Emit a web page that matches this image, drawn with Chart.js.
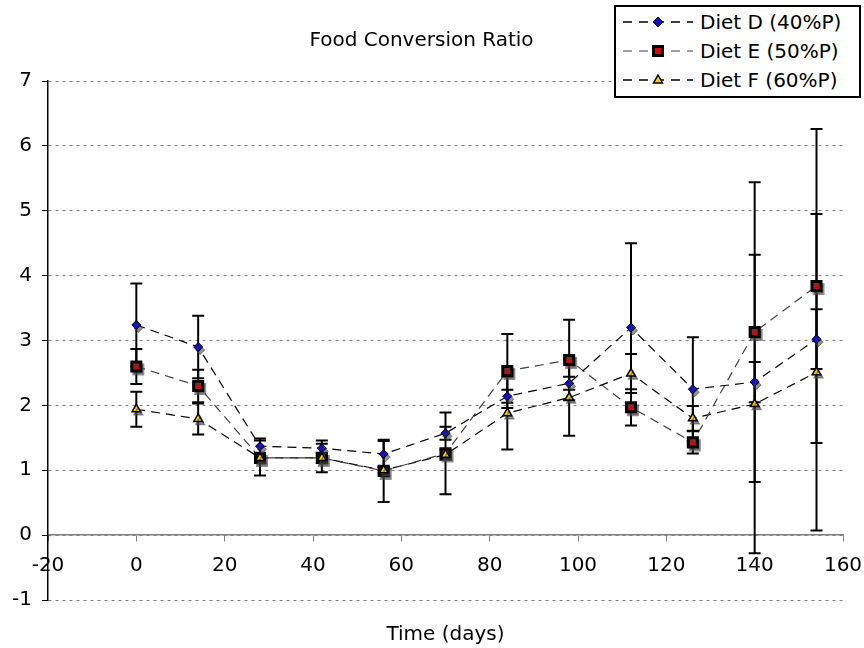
<!DOCTYPE html>
<html>
<head>
<meta charset="utf-8">
<script src="https://cdn.jsdelivr.net/npm/chart.js@4.4.0/dist/chart.umd.min.js"></script>
<style>
html, body { margin: 0; padding: 0; background: #fff; }
#wrap { position: relative; width: 864px; height: 648px; }
#legend {
    position: absolute; left: 614px; top: 5px; width: 243px; height: 89px;
    border: 2px solid #000; background: #fff;
    font-family: "DejaVu Sans", Verdana, sans-serif; font-size: 20px; color: #000;
}
#legend .row { display: flex; align-items: center; height: 29px; }
#legend svg { margin-left: 7px; margin-right: 7px; }
</style>
</head>
<body>
<div id="wrap">
    <canvas id="fcrChart" width="864" height="648"></canvas>
    <div id="legend"></div>
</div>
<script>
// sampling days
const days = [0, 14, 28, 42, 56, 70, 84, 98, 112, 126, 140, 154];

// mean food conversion ratio
const dietD = [3.24, 2.90, 1.37, 1.34, 1.25, 1.57, 2.14, 2.34, 3.20, 2.25, 2.36, 3.02];
const dietE = [2.60, 2.30, 1.19, 1.19, 0.99, 1.26, 2.53, 2.70, 1.97, 1.43, 3.13, 3.84];
const dietF = [1.94, 1.79, 1.19, 1.19, 1.00, 1.24, 1.88, 2.12, 2.49, 1.80, 2.02, 2.51];

// error bar half-lengths
const errD = [0.64, 0.48, 0.12, 0.12, 0.20, 0.10, 0.10, 0.10, 1.30, 0.80, 0.31, 0.46];
const errE = [0.27, 0.25, 0.27, 0.22, 0.48, 0.63, 0.57, 0.62, 0.28, 0.17, 2.31, 2.42];
const errF = [0.27, 0.24, 0.08, 0.08, 0.05, 0.08, 0.56, 0.59, 0.30, 0.19, 2.30, 2.44];

const seriesNames = ['Diet D (40%P)', 'Diet E (50%P)', 'Diet F (60%P)'];
const xTicks = { min: -20, max: 160, step: 20 };
const yTicks = { min: -1, max: 7, step: 1 };

const FONT = '"DejaVu Sans", Verdana, sans-serif';

const series = [
    { name: seriesNames[0], values: dietD, err: errD, line: '#000', style: 'rectRot', radius: 4.5, fill: '#1010c0', border: '#000', bw: 1, order: 2 },
    { name: seriesNames[1], values: dietE, err: errE, line: '#404040', style: 'rect', radius: 6.4, fill: '#e00000', border: '#000', bw: 3, order: 3 },
    { name: seriesNames[2], values: dietF, err: errF, line: '#000', style: 'triangle', radius: 5, fill: '#ffcc00', border: '#000', bw: 1.5, order: 1 }
];

function pts(values) {
    return days.map((d, i) => ({ x: d, y: values[i] }));
}

const datasets = [];
series.forEach(s => {
    datasets.push({
        label: s.name,
        data: pts(s.values),
        borderColor: s.line,
        borderWidth: 1.2,
        borderDash: [9, 6],
        pointRadius: 0,
        fill: false,
        tension: 0,
        order: 10
    });
});
series.forEach(s => {
    datasets.push({
        label: s.name + ' markers',
        data: pts(s.values),
        showLine: false,
        markers: true,
        err: s.err,
        pointStyle: s.style,
        pointRadius: s.radius,
        pointBackgroundColor: s.fill,
        pointBorderColor: s.border,
        pointBorderWidth: s.bw,
        order: s.order
    });
});

function drawBars(chart) {
    const ctx = chart.ctx;
    const xs = chart.scales.x, ys = chart.scales.y;
    ctx.save();
    ctx.strokeStyle = '#000';
    ctx.lineWidth = 2;
    series.forEach(s => {
        days.forEach((d, i) => {
            const px = xs.getPixelForValue(d);
            const top = ys.getPixelForValue(s.values[i] + s.err[i]);
            const bot = ys.getPixelForValue(s.values[i] - s.err[i]);
            ctx.beginPath();
            ctx.moveTo(px, top); ctx.lineTo(px, bot);
            ctx.moveTo(px - 6, top); ctx.lineTo(px + 6, top);
            ctx.moveTo(px - 6, bot); ctx.lineTo(px + 6, bot);
            ctx.stroke();
        });
    });
    ctx.restore();
}

const errorBars = {
    id: 'errorBars',
    beforeDatasetsDraw(chart) { chart.$barsDone = false; },
    beforeDatasetDraw(chart, args) {
        const ds = chart.data.datasets[args.index];
        if (!ds.markers) return;
        if (!chart.$barsDone) { drawBars(chart); chart.$barsDone = true; }
        const ctx = chart.ctx;
        ctx.save();
        ctx.shadowColor = 'rgba(70,70,70,0.6)';
        ctx.shadowOffsetX = 2;
        ctx.shadowOffsetY = 3;
        ctx.shadowBlur = 0;
    },
    afterDatasetDraw(chart, args) {
        if (chart.data.datasets[args.index].markers) chart.ctx.restore();
    }
};

const ctx = document.getElementById('fcrChart').getContext('2d');
const fcrChart = new Chart(ctx, {
    type: 'line',
    data: { datasets: datasets },
    options: {
        responsive: false,
        animation: false,
        layout: { padding: { left: 0, right: 21, top: 0, bottom: 0 } },
        plugins: {
            legend: { display: false },
            tooltip: { enabled: false },
            title: {
                display: true,
                text: 'Food Conversion Ratio',
                color: '#000',
                font: { family: FONT, size: 20, weight: 'normal' },
                padding: { top: 29, bottom: 28 }
            },
            subtitle: {
                display: true,
                position: 'bottom',
                fullSize: false,
                text: 'Time (days)',
                color: '#000',
                font: { family: FONT, size: 20, weight: 'normal' },
                padding: { top: 23, bottom: 1 }
            }
        },
        scales: {
            x: {
                type: 'linear',
                position: { y: 0 },
                min: xTicks.min,
                max: xTicks.max,
                afterFit: s => { s.paddingLeft = 0; s.paddingRight = 0; },
                ticks: {
                    stepSize: xTicks.step,
                    color: '#000',
                    padding: 13,
                    maxRotation: 0,
                    font: { family: FONT, size: 20 }
                },
                grid: {
                    drawOnChartArea: false,
                    drawTicks: true,
                    tickLength: 6,
                    tickColor: '#808080'
                },
                border: { color: '#808080', width: 1.5 }
            },
            y: {
                min: yTicks.min,
                max: yTicks.max,
                afterFit: s => { s.width = 48; },
                ticks: {
                    stepSize: yTicks.step,
                    color: '#000',
                    padding: 10,
                    font: { family: FONT, size: 20 }
                },
                grid: {
                    color: '#808080',
                    tickLength: 6,
                    tickColor: '#000'
                },
                border: { color: '#000', width: 1.5, dash: [3, 4] }
            }
        }
    },
    plugins: [errorBars]
});

// legend with dashed line samples and markers
function markerSvg(s) {
    let m = '';
    if (s.style === 'rectRot') {
        m = '<polygon points="35,5 40,10 35,15 30,10" fill="' + s.fill + '" stroke="#000" stroke-width="1"/>';
    } else if (s.style === 'rect') {
        m = '<rect x="30.5" y="5.5" width="9" height="9" fill="' + s.fill + '" stroke="#000" stroke-width="3"/>';
    } else {
        m = '<polygon points="35,5 39.5,13 30.5,13" fill="' + s.fill + '" stroke="#000" stroke-width="1.5"/>';
    }
    const lc = s.line === '#404040' ? '#808080' : s.line;
    return '<svg width="70" height="20"><line x1="0" y1="10" x2="70" y2="10" stroke="' + lc +
        '" stroke-width="1.5" stroke-dasharray="9,7"/>' + m + '</svg>';
}
document.getElementById('legend').innerHTML = series.map(s =>
    '<div class="row">' + markerSvg(s) + '<span>' + s.name + '</span></div>'
).join('');
</script>
</body>
</html>
